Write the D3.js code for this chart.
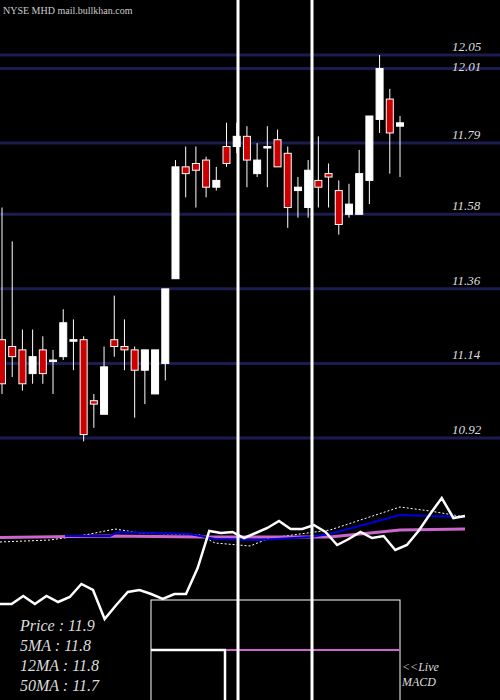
<!DOCTYPE html>
<html><head><meta charset="utf-8">
<script src="https://cdn.jsdelivr.net/npm/d3@7/dist/d3.min.js"></script>
<style>body{margin:0;background:#000}</style></head>
<body><svg id="c" width="500" height="700"></svg>
<script>
const opens  = [11.21,11.19,11.18,11.11,11.18,11.15,11.16,11.21,11.21,11.03,10.99,11.21,11.19,11.18,11.12,11.05,11.14,11.39,11.72,11.73,11.74,11.66,11.78,11.78,11.81,11.70,11.78,11.80,11.76,11.65,11.60,11.68,11.70,11.65,11.58,11.58,11.68,11.86,11.92,11.84];
const highs  = [11.60,11.50,11.24,11.24,11.22,11.18,11.30,11.27,11.22,11.05,11.19,11.34,11.27,11.19,11.18,11.18,11.36,11.74,11.78,11.78,11.75,11.72,11.85,11.85,11.84,11.79,11.84,11.83,11.78,11.69,11.74,11.81,11.73,11.68,11.67,11.77,11.87,12.05,11.95,11.87];
const lows   = [11.05,11.10,11.06,11.08,11.08,11.05,11.15,11.12,10.91,10.95,10.99,11.16,11.12,10.98,11.02,11.05,11.09,11.39,11.63,11.60,11.63,11.65,11.72,11.76,11.66,11.69,11.66,11.72,11.54,11.57,11.57,11.60,11.60,11.52,11.57,11.58,11.61,11.82,11.70,11.69];
const closes = [11.08,11.16,11.08,11.16,11.11,11.15,11.26,11.21,10.93,11.02,11.13,11.19,11.18,11.12,11.18,11.18,11.36,11.72,11.70,11.71,11.66,11.68,11.73,11.81,11.74,11.74,11.78,11.72,11.60,11.66,11.71,11.66,11.69,11.55,11.61,11.70,11.87,12.01,11.82,11.85];
const priceTicks = [12.05,12.01,11.79,11.58,11.36,11.14,10.92];
const macdLine = [16,16,24,16,24,18,23,36,30,1,15,28,30,26,21,26,26,52,89,87,88,82,87,92,99,91,91,95,88,75,81,88,82,84,70,75,89,106,122,102,104];
const pinkX = [0,110,200,330,400,465], pinkV = [82.5,84,83,83,90,91];
const blueX = [65,110,118,190,215,260,310,330,400,430,465], blueV = [84,84,88,86,81,80,83,86,105,104,103];
const dotX = [0,50,85,115,140,200,215,250,270,330,400,430,465], dotV = [78,80,85,91,87,85,77,74,82,90,113,109,103];
const labels = ["Price   : 11.9","5MA : 11.8","12MA : 11.8","50MA : 11.7"];

const svg = d3.select("#c");
svg.append("rect").attr("width",500).attr("height",700).attr("fill","#000");
const y = d3.scaleLinear().domain([10.92,12.05]).range([438,55]);
const x = d3.scaleLinear().domain([0,39]).range([2,400]);
svg.selectAll(".g").data(priceTicks).join("line").attr("x1",0).attr("x2",500)
  .attr("y1",d=>y(d)).attr("y2",d=>y(d)).attr("stroke","#1c1c50").attr("stroke-width",3);
svg.selectAll(".t").data(priceTicks).join("text").attr("x",452).attr("y",(d,i)=>y(d)-(i==1?-2:4))
  .text(d=>d.toFixed(2)).attr("fill","#ddd").attr("font-family","Liberation Serif").attr("font-style","italic").attr("font-size",13);
svg.append("text").attr("x",3).attr("y",14).text("NYSE MHD mail.bullkhan.com").attr("fill","#ccc")
  .attr("font-family","Liberation Serif").attr("font-size",10);
const idx = d3.range(opens.length);
svg.selectAll(".w").data(idx).join("line").attr("x1",i=>x(i)).attr("x2",i=>x(i))
  .attr("y1",i=>y(highs[i])).attr("y2",i=>y(lows[i])).attr("stroke","#fff").attr("stroke-width",1);
svg.selectAll(".b").data(idx).join("rect").attr("x",i=>x(i)-3.5).attr("width",7)
  .attr("y",i=>y(Math.max(opens[i],closes[i]))).attr("height",i=>Math.max(1.5,Math.abs(y(opens[i])-y(closes[i]))))
  .attr("fill",i=>closes[i]<opens[i]?"#cc0000":"#fff").attr("stroke","#fff").attr("stroke-width",1);
// indicator panel
const yi = d3.scaleLinear().domain([0,130]).range([620,490]);
const xm = d3.scaleLinear().domain([0,macdLine.length-1]).range([0,465]);
const ln = d3.line();
svg.append("path").attr("d",ln(dotX.map((d,i)=>[d,yi(dotV[i])]))).attr("fill","none").attr("stroke","#fff").attr("stroke-dasharray","2,2").attr("stroke-width",1);
svg.append("path").attr("d",ln(pinkX.map((d,i)=>[d,yi(pinkV[i])]))).attr("fill","none").attr("stroke","#cc66cc").attr("stroke-width",3);
svg.append("path").attr("d",ln(blueX.map((d,i)=>[d,yi(blueV[i])]))).attr("fill","none").attr("stroke","#0000dd").attr("stroke-width",2);
svg.append("path").attr("d",ln(macdLine.map((d,i)=>[xm(i),yi(d)]))).attr("fill","none").attr("stroke","#fff").attr("stroke-width",2.5);
// box
svg.append("rect").attr("x",151).attr("y",600).attr("width",249).attr("height",110).attr("fill","none").attr("stroke","#fff").attr("stroke-width",1);
svg.append("path").attr("d","M151,650H225V700").attr("fill","none").attr("stroke","#fff").attr("stroke-width",2.5);
svg.append("line").attr("x1",226).attr("x2",400).attr("y1",650).attr("y2",650).attr("stroke","#cc66cc").attr("stroke-width",2);
// vertical lines
[238,312].forEach(v=>svg.append("line").attr("x1",v).attr("x2",v).attr("y1",0).attr("y2",700).attr("stroke","#fff").attr("stroke-width",3));
svg.selectAll(".l").data(labels).join("text").attr("x",20).attr("y",(d,i)=>631+i*20).text(d=>d)
  .attr("fill","#ddd").attr("font-family","Liberation Serif").attr("font-style","italic").attr("font-size",16);
["<<Live","MACD"].forEach((t,i)=>svg.append("text").attr("x",402).attr("y",671+i*15).text(t)
  .attr("fill","#ddd").attr("font-family","Liberation Serif").attr("font-style","italic").attr("font-size",12));
</script></body></html>
